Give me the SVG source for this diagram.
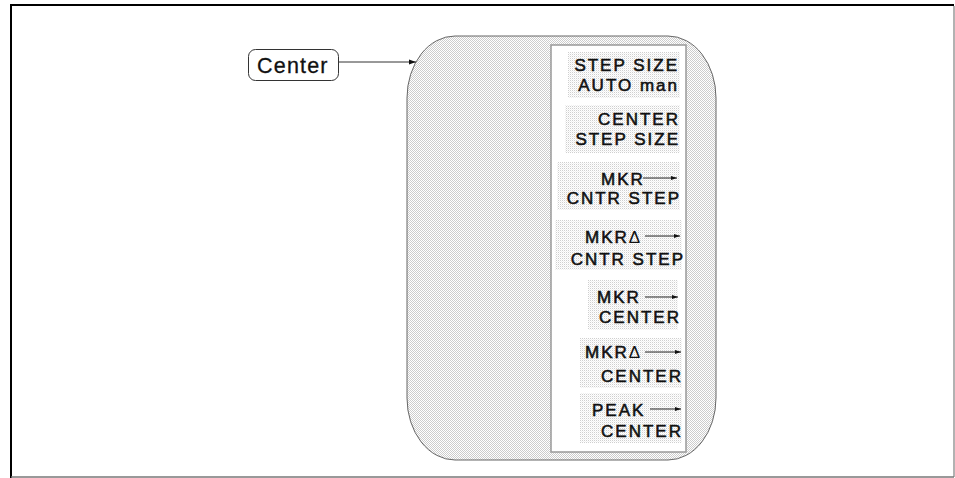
<svg xmlns="http://www.w3.org/2000/svg" width="955" height="478" viewBox="0 0 955 478">
<style>
.sk{font-family:"Liberation Sans",Arial,sans-serif;font-size:17px;letter-spacing:2px;fill:#111;stroke:#111;stroke-width:0.55px}
.end{text-anchor:end}
.ka{stroke:#222;stroke-width:1}
.box{fill:url(#dots)}
</style>
<defs>
<pattern id="checker" width="2" height="2" patternUnits="userSpaceOnUse">
<rect width="2" height="2" fill="#ffffff"/>
<rect x="0" y="0" width="1" height="1" fill="#cccccc"/>
<rect x="1" y="1" width="1" height="1" fill="#cccccc"/>
</pattern>
<pattern id="dots" width="2" height="2" patternUnits="userSpaceOnUse">
<rect width="2" height="2" fill="#ffffff"/>
<rect x="0" y="0" width="1" height="1" fill="#cfcfcf"/>
<rect x="1" y="1" width="1" height="1" fill="#f0f0f0"/>
</pattern>
<marker id="ah" markerWidth="8" markerHeight="6" refX="7" refY="3" orient="auto" markerUnits="userSpaceOnUse">
<path d="M0,0.5 L7,3 L0,5.5 Z" fill="#111"/>
</marker>
<marker id="ahs" markerWidth="7" markerHeight="5" refX="6" refY="2.5" orient="auto" markerUnits="userSpaceOnUse">
<path d="M0,0.5 L6,2.5 L0,4.5 Z" fill="#111"/>
</marker>
</defs>
<g id="frame">
<line x1="11" y1="5" x2="954" y2="5" stroke="#000" stroke-width="2"/>
<line x1="11" y1="4" x2="11" y2="478" stroke="#000" stroke-width="2"/>
<line x1="954" y1="6" x2="954" y2="477" stroke="#999" stroke-width="1.5"/>
<line x1="11" y1="477" x2="954" y2="477" stroke="#777" stroke-width="1.5"/>
</g>
<g id="center-key">
<rect x="248.5" y="49.5" width="90" height="31" rx="7" ry="7" fill="#fff" stroke="#333" stroke-width="1"/>
<text x="257" y="72.5" font-family="Liberation Sans, Arial, sans-serif" font-size="21.5" letter-spacing="1.2" fill="#111" stroke="#111" stroke-width="0.3">Center</text>
</g>
<g id="menu">
<path d="M455,36 H668 A48,62 0 0 1 716,98 V398 A48,62 0 0 1 668,460 H455 A48,62 0 0 1 407,398 V98 A48,62 0 0 1 455,36 Z" fill="url(#checker)" stroke="#666" stroke-width="1"/>
<rect x="551" y="45" width="135" height="407" fill="#fff" stroke="#999" stroke-width="1.5"/>
</g>
<g id="key1">
<rect class="box" x="568" y="52" width="112" height="46"/>
<text class="sk end" x="679" y="71">STEP SIZE</text>
<text class="sk end" x="679" y="91">AUTO man</text>
</g>
<g id="key2">
<rect class="box" x="565" y="105" width="115" height="48"/>
<text class="sk end" x="680" y="125">CENTER</text>
<text class="sk end" x="680" y="145">STEP SIZE</text>
</g>
<g id="key3">
<rect class="box" x="557" y="162" width="123" height="48"/>
<text class="sk" x="601" y="185">MKR</text>
<line class="ka" x1="643" y1="178" x2="677" y2="178" marker-end="url(#ahs)"/>
<text class="sk end" x="681" y="204">CNTR STEP</text>
</g>
<g id="key4">
<rect class="box" x="555" y="220" width="127" height="50"/>
<text class="sk" x="585" y="243">MKR<tspan stroke-width="0">Δ</tspan></text>
<line class="ka" x1="645" y1="236" x2="680" y2="236" marker-end="url(#ahs)"/>
<text class="sk end" x="685" y="265">CNTR STEP</text>
</g>
<g id="key5">
<rect class="box" x="588" y="280" width="90" height="50"/>
<text class="sk" x="597" y="303">MKR</text>
<line class="ka" x1="645" y1="297" x2="678" y2="297" marker-end="url(#ahs)"/>
<text class="sk end" x="681" y="323">CENTER</text>
</g>
<g id="key6">
<rect class="box" x="580" y="338" width="102" height="50"/>
<text class="sk" x="585" y="358">MKR<tspan stroke-width="0">Δ</tspan></text>
<line class="ka" x1="645" y1="352" x2="681" y2="352" marker-end="url(#ahs)"/>
<text class="sk end" x="683" y="382">CENTER</text>
</g>
<g id="key7">
<rect class="box" x="580" y="393" width="102" height="50"/>
<text class="sk" x="592" y="416">PEAK</text>
<line class="ka" x1="650" y1="409" x2="681" y2="409" marker-end="url(#ahs)"/>
<text class="sk end" x="683" y="437">CENTER</text>
</g>
<g id="connectors">
<line x1="339" y1="62" x2="416" y2="62" stroke="#333" stroke-width="1" marker-end="url(#ah)"/>
</g>
</svg>
